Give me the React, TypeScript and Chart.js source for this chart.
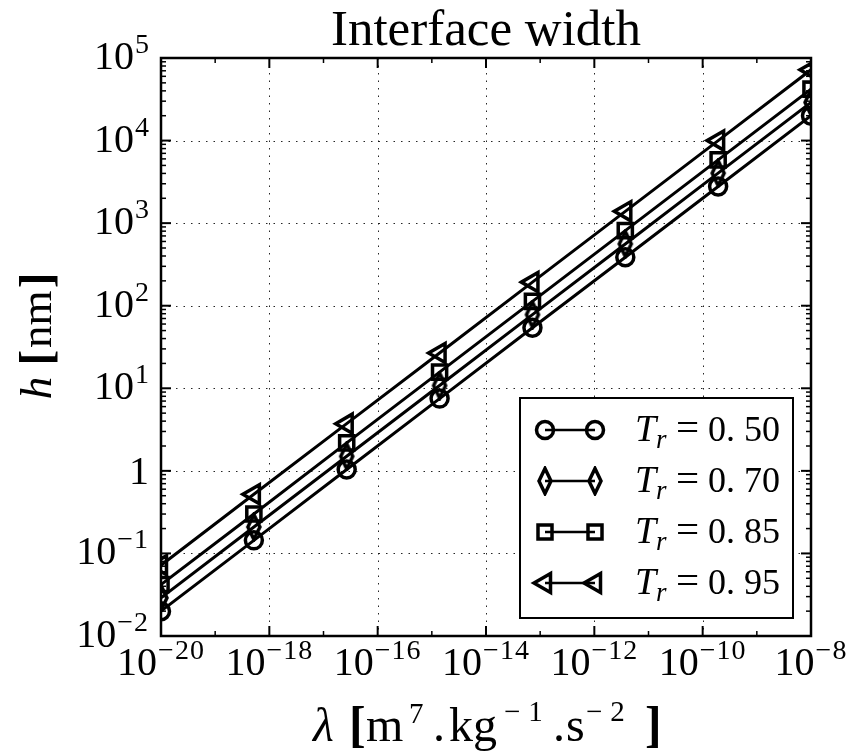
import React, { useEffect, useRef } from 'react';
import { Chart, registerables } from 'chart.js';

Chart.register(...registerables);

// ---------- data ----------
const lambdaValues = [1e-20, 5.18e-19, 2.68e-17, 1.39e-15, 7.2e-14, 3.73e-12, 1.93e-10, 1e-8];
const hTr050 = [0.02, 0.144, 1.04, 7.5, 54, 387, 2780, 20000];
const hTr070 = [0.029, 0.209, 1.5, 10.8, 78, 560, 4030, 29000];
const hTr085 = [0.042, 0.3, 2.18, 15.7, 113, 812, 5840, 42000];
const hTr095 = [0.072, 0.52, 3.73, 26.8, 193, 1390, 10000, 72000];
const seriesValues = ['0. 50', '0. 70', '0. 85', '0. 95'];
const xMajorExponents = [-20, -18, -16, -14, -12, -10, -8];
const xMinorExponents = [-19, -17, -15, -13, -11, -9];
const yExponents = [-2, -1, 0, 1, 2, 3, 4, 5];
const titleText = 'Interface width';

const SERIF = '"Liberation Serif", "Times New Roman", serif';
const fnt = (size: number, style = '') => `${style} ${size}px ${SERIF}`.trim();

type Seg = { t: string; font: string; dy?: number; dx?: number; at?: number; ls?: number };

function setLS(ctx: CanvasRenderingContext2D, ls: number) {
  (ctx as any).letterSpacing = `${ls}px`;
}

function segWidth(ctx: CanvasRenderingContext2D, segs: Seg[]) {
  let w = 0;
  for (const s of segs) {
    ctx.font = s.font;
    setLS(ctx, s.ls || 0);
    w += ctx.measureText(s.t).width + (s.dx || 0);
  }
  setLS(ctx, 0);
  return w;
}

function drawSegs(ctx: CanvasRenderingContext2D, segs: Seg[], x: number, y: number, align: 'left' | 'center' | 'right') {
  const w = segWidth(ctx, segs);
  let cx = align === 'left' ? x : align === 'center' ? x - w / 2 : x - w;
  ctx.textAlign = 'left';
  ctx.textBaseline = 'alphabetic';
  for (const s of segs) {
    ctx.font = s.font;
    setLS(ctx, s.ls || 0);
    ctx.fillText(s.t, cx + (s.dx || 0), y + (s.dy || 0));
    cx += ctx.measureText(s.t).width + (s.dx || 0);
  }
  setLS(ctx, 0);
}

// segments placed at given offsets from a start x
function drawPlaced(ctx: CanvasRenderingContext2D, segs: Seg[], x0: number, y: number) {
  ctx.textAlign = 'left';
  ctx.textBaseline = 'alphabetic';
  for (const s of segs) {
    ctx.font = s.font;
    setLS(ctx, s.ls || 0);
    ctx.fillText(s.t, x0 + (s.at || 0), y + (s.dy || 0));
  }
  setLS(ctx, 0);
}

const minus = (e: number) => (e < 0 ? '\u2212' + Math.abs(e) : String(e));

function powLabel(e: number, main: number, sup: number, raise: number): Seg[] {
  if (e === 0) return [{ t: '1', font: fnt(main) }];
  return [
    { t: '10', font: fnt(main) },
    { t: minus(e), font: fnt(sup), dy: -raise, dx: 1, ls: e < 0 ? 1 : 0 },
  ];
}

function makeDiamond(): HTMLCanvasElement {
  const c = document.createElement('canvas');
  c.width = 18;
  c.height = 30;
  const g = c.getContext('2d')!;
  g.strokeStyle = '#000';
  g.lineWidth = 3.5;
  g.lineJoin = 'miter';
  g.beginPath();
  g.moveTo(9, 2.5);
  g.lineTo(15, 15);
  g.lineTo(9, 27.5);
  g.lineTo(3, 15);
  g.closePath();
  g.stroke();
  return c;
}

function drawMarker(ctx: CanvasRenderingContext2D, kind: number, x: number, y: number, diamond: HTMLCanvasElement) {
  ctx.save();
  ctx.strokeStyle = '#000';
  ctx.lineWidth = 3.5;
  ctx.beginPath();
  if (kind === 0) {
    ctx.arc(x, y, 8.5, 0, Math.PI * 2);
    ctx.stroke();
  } else if (kind === 1) {
    ctx.drawImage(diamond, x - diamond.width / 2, y - diamond.height / 2);
  } else if (kind === 2) {
    ctx.rect(x - 7, y - 7, 14, 14);
    ctx.stroke();
  } else {
    const r = 11;
    ctx.moveTo(x - r, y);
    ctx.lineTo(x + r * 0.5, y - r * 0.866);
    ctx.lineTo(x + r * 0.5, y + r * 0.866);
    ctx.closePath();
    ctx.stroke();
  }
  ctx.restore();
}

export default function App() {
  const ref = useRef<HTMLCanvasElement>(null);

  useEffect(() => {
    const canvas = ref.current!;
    const diamond = makeDiamond();

    const decor = {
      id: 'decor',
      beforeDatasetsDraw(chart: any) {
        const { ctx, chartArea: a, scales } = chart;
        const x = scales.x;
        const y = scales.y;
        ctx.save();
        ctx.strokeStyle = 'rgba(0,0,0,0.85)';
        ctx.lineWidth = 1;
        ctx.setLineDash([1.5, 6]);
        for (const e of xMajorExponents) {
          const px = Math.round(x.getPixelForValue(Math.pow(10, e))) + 0.5;
          ctx.beginPath();
          ctx.moveTo(px, a.top);
          ctx.lineTo(px, a.bottom);
          ctx.stroke();
        }
        for (const e of yExponents) {
          const py = Math.round(y.getPixelForValue(Math.pow(10, e))) + 0.5;
          ctx.beginPath();
          ctx.moveTo(a.left, py);
          ctx.lineTo(a.right, py);
          ctx.stroke();
        }
        ctx.restore();
      },
      afterDatasetsDraw(chart: any) {
        const { ctx, chartArea: a, scales } = chart;
        const x = scales.x;
        const y = scales.y;
        ctx.save();
        ctx.strokeStyle = '#000';
        ctx.fillStyle = '#000';

        // ticks (inward, all four sides)
        const tick = (x1: number, y1: number, x2: number, y2: number, w: number) => {
          ctx.lineWidth = w;
          ctx.beginPath();
          ctx.moveTo(x1, y1);
          ctx.lineTo(x2, y2);
          ctx.stroke();
        };
        for (const e of xMajorExponents) {
          const px = x.getPixelForValue(Math.pow(10, e));
          tick(px, a.bottom, px, a.bottom - 10, 2);
          tick(px, a.top, px, a.top + 10, 2);
        }
        for (const e of xMinorExponents) {
          const px = x.getPixelForValue(Math.pow(10, e));
          tick(px, a.bottom, px, a.bottom - 5, 1.5);
          tick(px, a.top, px, a.top + 5, 1.5);
        }
        for (const e of yExponents) {
          const py = y.getPixelForValue(Math.pow(10, e));
          tick(a.left, py, a.left + 10, py, 2);
          tick(a.right, py, a.right - 10, py, 2);
          if (e < yExponents[yExponents.length - 1]) {
            for (let k = 2; k <= 9; k++) {
              const pm = y.getPixelForValue(k * Math.pow(10, e));
              tick(a.left, pm, a.left + 5, pm, 1.5);
              tick(a.right, pm, a.right - 5, pm, 1.5);
            }
          }
        }

        // frame
        ctx.lineWidth = 2.5;
        ctx.strokeRect(a.left, a.top, a.right - a.left, a.bottom - a.top);

        // tick labels
        for (const e of xMajorExponents) {
          const px = x.getPixelForValue(Math.pow(10, e));
          drawSegs(ctx, powLabel(e, 40, 28, 16), px, a.bottom + 39, 'center');
        }
        for (const e of yExponents) {
          const py = y.getPixelForValue(Math.pow(10, e));
          drawSegs(ctx, powLabel(e, 40, 28, 16), a.left - 12, py + (e === 0 ? 13 : 11), 'right');
        }

        // title
        drawSegs(ctx, [{ t: titleText, font: fnt(51) }], (a.left + a.right) / 2, 45, 'center');

        // x label
        const xl: Seg[] = [
          { t: '\u03bb', font: fnt(48, 'italic'), at: 0 },
          { t: '[', font: fnt(50, 'bold'), at: 36 },
          { t: 'm', font: fnt(48), at: 53 },
          { t: '7', font: fnt(29), dy: -18, at: 96 },
          { t: '.', font: fnt(48), at: 120 },
          { t: 'kg', font: fnt(48), at: 136 },
          { t: '\u22121', font: fnt(29), dy: -20, at: 191, ls: 8 },
          { t: '.', font: fnt(48), at: 240 },
          { t: 's', font: fnt(48), at: 253 },
          { t: '\u22122', font: fnt(29), dy: -20, at: 273, ls: 8 },
          { t: ']', font: fnt(50, 'bold'), at: 332 },
        ];
        drawPlaced(ctx, xl, 313, 741);

        // y label
        ctx.save();
        ctx.translate(51, 336);
        ctx.rotate(-Math.PI / 2);
        const yl: Seg[] = [
          { t: 'h', font: fnt(45, 'italic') },
          { t: ' ', font: fnt(45) },
          { t: '[', font: fnt(47, 'bold') },
          { t: 'nm', font: fnt(45), dx: 2 },
          { t: ']', font: fnt(47, 'bold'), dx: 2 },
        ];
        drawSegs(ctx, yl, 0, 0, 'center');
        ctx.restore();

        // legend
        ctx.fillStyle = '#fff';
        ctx.fillRect(520, 398, 273, 220);
        ctx.strokeStyle = '#000';
        ctx.lineWidth = 2;
        ctx.strokeRect(520, 398, 273, 220);
        ctx.fillStyle = '#000';
        const rows = [430, 481, 532, 583];
        seriesValues.forEach((v, i) => {
          const cy = rows[i];
          ctx.lineWidth = 2.5;
          ctx.beginPath();
          ctx.moveTo(545, cy);
          ctx.lineTo(595, cy);
          ctx.stroke();
          drawMarker(ctx, i, 545, cy, diamond);
          drawMarker(ctx, i, 595, cy, diamond);
          drawPlaced(
            ctx,
            [
              { t: 'T', font: fnt(38, 'italic'), at: 0 },
              { t: 'r', font: fnt(27, 'italic'), dy: 7, at: 21 },
              { t: '=', font: fnt(41), at: 41 },
              { t: v, font: fnt(36), at: 73 },
            ],
            635,
            cy + 11
          );
        });
        ctx.restore();
      },
    };

    const base = {
      borderColor: '#000',
      borderWidth: 3,
      pointBorderColor: '#000',
      pointBackgroundColor: 'rgba(0,0,0,0)',
      pointBorderWidth: 3.5,
      pointHoverRadius: 0,
      tension: 0,
      fill: false,
      clip: 0,
    };
    const pts = (arr: number[]) => lambdaValues.map((lx, i) => ({ x: lx, y: arr[i] }));

    const chart = new Chart(canvas, {
      type: 'line',
      data: {
        datasets: [
          { ...base, label: 'Tr=0.50', data: pts(hTr050), pointStyle: 'circle', pointRadius: 8.5, order: 3 },
          { ...base, label: 'Tr=0.70', data: pts(hTr070), pointStyle: diamond as any, pointRadius: 10, order: 2 },
          { ...base, label: 'Tr=0.85', data: pts(hTr085), pointStyle: 'rect', pointRadius: 10, order: 1 },
          { ...base, label: 'Tr=0.95', data: pts(hTr095), pointStyle: 'triangle', pointRotation: -90, pointRadius: 11, order: 0 },
        ] as any,
      },
      options: {
        responsive: false,
        animation: false,
        devicePixelRatio: 1,
        events: [],
        layout: { padding: { left: 161, top: 58, right: 42, bottom: 115 } },
        scales: {
          x: { type: 'logarithmic', min: 1e-20, max: 1e-8, display: false },
          y: { type: 'logarithmic', min: 1e-2, max: 1e5, display: false },
        },
        plugins: {
          legend: { display: false },
          tooltip: { enabled: false },
          title: { display: false },
        },
      } as any,
      plugins: [decor],
    });
    return () => chart.destroy();
  }, []);

  return (
    <canvas
      ref={ref}
      width={853}
      height={751}
      style={{ position: 'fixed', left: 0, top: 0, width: 853, height: 751 }}
    />
  );
}
